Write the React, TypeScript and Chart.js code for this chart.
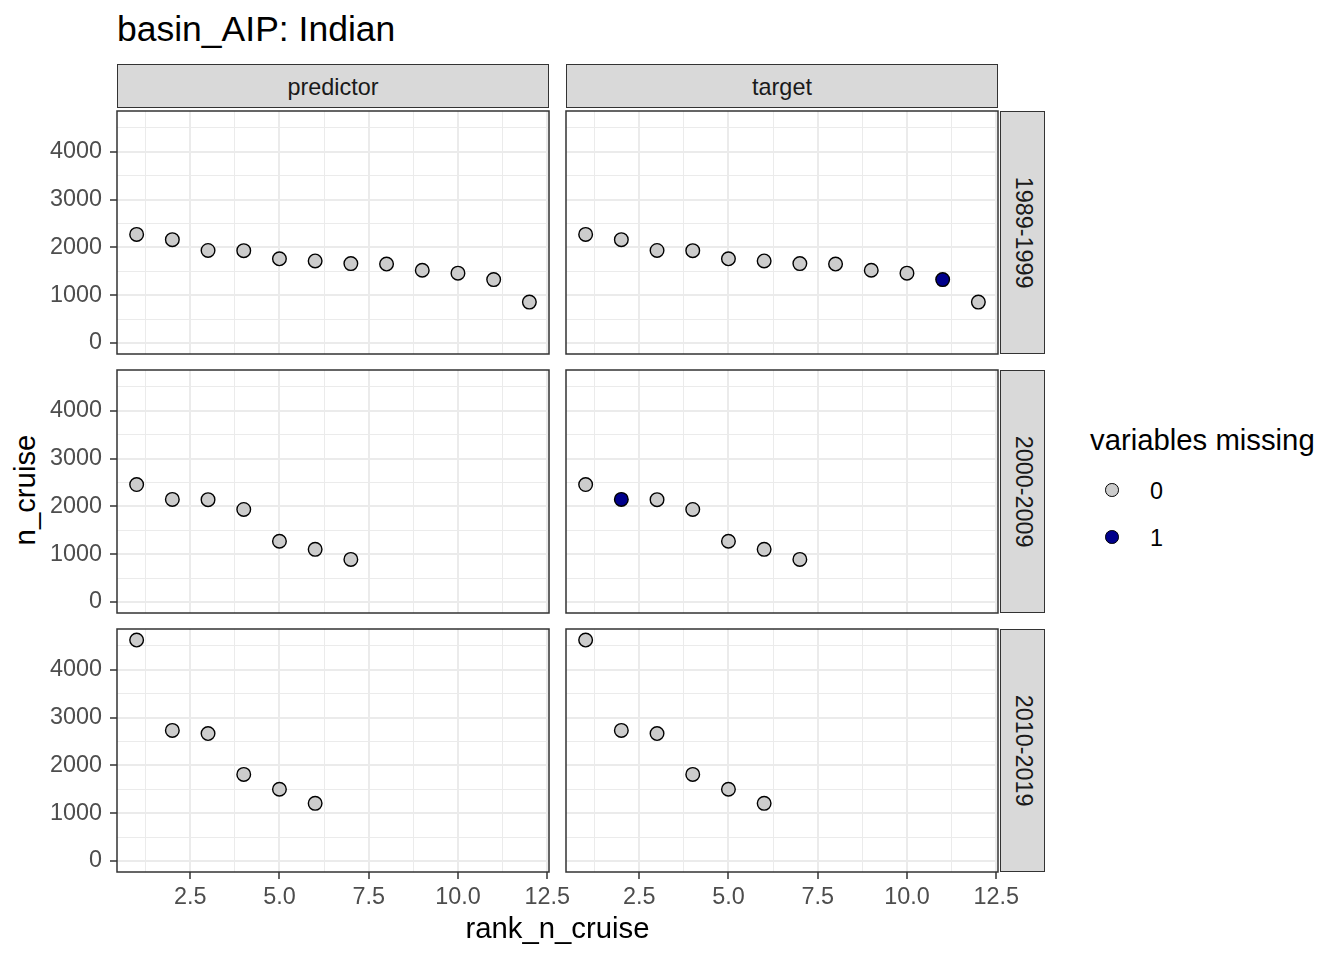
import React, { useEffect, useRef } from "react";
import { Chart, registerables } from "chart.js";

Chart.register(...registerables);

// ---------- data ----------
const TITLE = "basin_AIP: Indian";
const COLUMN_LABELS = ["predictor", "target"];
const ROW_LABELS = ["1989-1999", "2000-2009", "2010-2019"];
const X_TITLE = "rank_n_cruise";
const Y_TITLE = "n_cruise";
const LEGEND_TITLE = "variables missing";
const LEGEND_LABELS = ["0", "1"];

const RANK_1989 = [1, 2, 3, 4, 5, 6, 7, 8, 9, 10, 11, 12];
const N_CRUISE_1989 = [2270, 2160, 1935, 1930, 1760, 1715, 1660, 1650, 1520, 1460, 1325, 855];
const RANK_2000 = [1, 2, 3, 4, 5, 6, 7];
const N_CRUISE_2000 = [2455, 2145, 2140, 1935, 1270, 1100, 890];
const RANK_2010 = [1, 2, 3, 4, 5, 6];
const N_CRUISE_2010 = [4620, 2730, 2665, 1810, 1500, 1205];

const MISSING_PREDICTOR_1989 = [0, 0, 0, 0, 0, 0, 0, 0, 0, 0, 0, 0];
const MISSING_TARGET_1989 = [0, 0, 0, 0, 0, 0, 0, 0, 0, 0, 1, 0];
const MISSING_PREDICTOR_2000 = [0, 0, 0, 0, 0, 0, 0];
const MISSING_TARGET_2000 = [0, 1, 0, 0, 0, 0, 0];
const MISSING_PREDICTOR_2010 = [0, 0, 0, 0, 0, 0];
const MISSING_TARGET_2010 = [0, 0, 0, 0, 0, 0];

const X_TICKS = [1.25, 2.5, 3.75, 5, 6.25, 7.5, 8.75, 10, 11.25, 12.5];
const X_MAJOR = [2.5, 5, 7.5, 10, 12.5];
const Y_TICKS = [0, 500, 1000, 1500, 2000, 2500, 3000, 3500, 4000, 4500];
const Y_MAJOR = [0, 1000, 2000, 3000, 4000];
const X_LIMITS = [0.45, 12.55];
const Y_LIMITS = [-231, 4851];

// ---------- styles ----------
const FONT = "'Liberation Sans', Arial, Helvetica, sans-serif";
const FILL = ["#CCCCCC", "#00008B"];
const GRID_COLOR = "#EBEBEB";
const AXIS_COLOR = "#333333";
const TICK_TEXT = "#4D4D4D";
const STRIP_BG = "#D9D9D9";
const STRIP_TEXT = "#1A1A1A";

const COL_X = [117, 566];
const ROW_Y = [110.5, 369.5, 628.5];
const PANEL_W = 432;
const PANEL_H = 243;
const AXIS_W = 75;
const AXIS_H = 45;
const PAD = 3;
const POINT_R = 6.8;

const isMajor = (v: number, list: number[]) => list.some((m) => Math.abs(m - v) < 1e-6);

const panelBorder = {
  id: "panelBorder",
  afterDatasetsDraw(chart: any) {
    const { ctx, chartArea } = chart;
    ctx.save();
    ctx.strokeStyle = AXIS_COLOR;
    ctx.lineWidth = 1.5;
    ctx.strokeRect(chartArea.left, chartArea.top, chartArea.width, chartArea.height);
    ctx.restore();
  },
};

type PanelProps = {
  row: number;
  col: number;
  ranks: number[];
  values: number[];
  missing: number[];
};

function Panel({ row, col, ranks, values, missing }: PanelProps) {
  const ref = useRef<HTMLCanvasElement>(null);
  const isLeft = col === 0;
  const isBottom = row === 2;
  const padL = isLeft ? 0 : PAD;
  const axisW = isLeft ? AXIS_W : 0;
  const padR = isBottom ? 34 : PAD;
  const axisH = isBottom ? AXIS_H : 0;
  const padT = PAD;
  const padB = isBottom ? 0 : PAD;
  const left = COL_X[col] - axisW - padL;
  const top = Math.round(ROW_Y[row] - padT);
  const width = padL + axisW + PANEL_W + padR;
  const height = padT + PANEL_H + axisH + padB;

  useEffect(() => {
    if (!ref.current) return;
    const tickFont = { family: FONT, size: 23.4 };
    const chart = new Chart(ref.current, {
      type: "scatter",
      data: {
        datasets: [
          {
            data: ranks.map((r, i) => ({ x: r, y: values[i] })),
            pointRadius: POINT_R,
            pointHoverRadius: POINT_R,
            pointBorderWidth: 1.4,
            pointBorderColor: "#000000",
            pointBackgroundColor: missing.map((m) => FILL[m]),
            clip: false,
          },
        ],
      },
      options: {
        animation: false,
        responsive: false,
        maintainAspectRatio: false,
        events: [],
        layout: { autoPadding: false, padding: { left: padL, right: padR, top: padT, bottom: padB } },
        plugins: { legend: { display: false }, tooltip: { enabled: false } },
        scales: {
          x: {
            type: "linear",
            min: X_LIMITS[0],
            max: X_LIMITS[1],
            afterBuildTicks: (s: any) => {
              s.ticks = X_TICKS.map((v) => ({ value: v }));
            },
            afterFit: (s: any) => {
              s.height = axisH;
              s.paddingLeft = 0;
              s.paddingRight = 0;
              s.paddingTop = 0;
              s.paddingBottom = 0;
            },
            border: { display: false },
            grid: {
              color: GRID_COLOR,
              lineWidth: (c: any) => (c.tick && isMajor(c.tick.value, X_MAJOR) ? 2 : 1),
              drawTicks: isBottom,
              tickLength: 7,
              tickWidth: 1.5,
              tickColor: (c: any) =>
                c.tick && isMajor(c.tick.value, X_MAJOR) ? AXIS_COLOR : "rgba(0,0,0,0)",
            },
            ticks: {
              display: isBottom,
              autoSkip: false,
              maxRotation: 0,
              minRotation: 0,
              padding: 5,
              color: TICK_TEXT,
              font: tickFont,
              callback: (v: any) => (isMajor(Number(v), X_MAJOR) ? Number(v).toFixed(1) : ""),
            },
          },
          y: {
            type: "linear",
            min: Y_LIMITS[0],
            max: Y_LIMITS[1],
            afterBuildTicks: (s: any) => {
              s.ticks = Y_TICKS.map((v) => ({ value: v }));
            },
            afterFit: (s: any) => {
              s.width = axisW;
              s.paddingLeft = 0;
              s.paddingRight = 0;
              s.paddingTop = 0;
              s.paddingBottom = 0;
            },
            border: { display: false },
            grid: {
              color: GRID_COLOR,
              lineWidth: (c: any) => (c.tick && isMajor(c.tick.value, Y_MAJOR) ? 2 : 1),
              drawTicks: isLeft,
              tickLength: 7,
              tickWidth: 1.5,
              tickColor: (c: any) =>
                c.tick && isMajor(c.tick.value, Y_MAJOR) ? AXIS_COLOR : "rgba(0,0,0,0)",
            },
            ticks: {
              display: isLeft,
              autoSkip: false,
              padding: 8,
              color: TICK_TEXT,
              font: tickFont,
              callback: (v: any) => (isMajor(Number(v), Y_MAJOR) ? String(v) : ""),
            },
          },
        },
      } as any,
      plugins: [panelBorder],
    });
    return () => chart.destroy();
  }, []);

  return (
    <canvas
      ref={ref}
      width={width}
      height={height}
      style={{ position: "absolute", left, top, width, height }}
    />
  );
}

const textBase: React.CSSProperties = {
  position: "absolute",
  fontFamily: FONT,
  lineHeight: 1,
  whiteSpace: "nowrap",
};

export default function App() {
  const rows = [
    { ranks: RANK_1989, values: N_CRUISE_1989, missing: [MISSING_PREDICTOR_1989, MISSING_TARGET_1989] },
    { ranks: RANK_2000, values: N_CRUISE_2000, missing: [MISSING_PREDICTOR_2000, MISSING_TARGET_2000] },
    { ranks: RANK_2010, values: N_CRUISE_2010, missing: [MISSING_PREDICTOR_2010, MISSING_TARGET_2010] },
  ];

  return (
    <div
      style={{
        position: "absolute",
        left: 0,
        top: 0,
        width: 1344,
        height: 960,
        background: "#FFFFFF",
        overflow: "hidden",
        fontFamily: FONT,
      }}
    >
      {/* title */}
      <div style={{ ...textBase, left: 117, top: 12, fontSize: 35.5, color: "#000" }}>{TITLE}</div>

      {/* column strips */}
      {COLUMN_LABELS.map((lab, c) => (
        <div
          key={lab}
          style={{
            position: "absolute",
            left: COL_X[c],
            top: 64,
            width: PANEL_W,
            height: 44,
            boxSizing: "border-box",
            border: `1.5px solid ${AXIS_COLOR}`,
            background: STRIP_BG,
            display: "flex",
            alignItems: "center",
            justifyContent: "center",
          }}
        >
          <span
            style={{
              fontFamily: FONT,
              fontSize: 23.4,
              lineHeight: 1,
              color: STRIP_TEXT,
              position: "relative",
              top: 1.5,
            }}
          >
            {lab}
          </span>
        </div>
      ))}

      {/* row strips */}
      {ROW_LABELS.map((lab, r) => (
        <div
          key={lab}
          style={{
            position: "absolute",
            left: 1000,
            top: Math.round(ROW_Y[r]),
            width: 45,
            height: PANEL_H,
            boxSizing: "border-box",
            border: `1.5px solid ${AXIS_COLOR}`,
            background: STRIP_BG,
            display: "flex",
            alignItems: "center",
            justifyContent: "center",
          }}
        >
          <span
            style={{
              fontFamily: FONT,
              fontSize: 23.4,
              lineHeight: 1,
              color: STRIP_TEXT,
              whiteSpace: "nowrap",
              transform: "rotate(90deg)",
            }}
          >
            {lab}
          </span>
        </div>
      ))}

      {/* panels */}
      {rows.map((rw, r) =>
        [0, 1].map((c) => (
          <Panel key={`${r}-${c}`} row={r} col={c} ranks={rw.ranks} values={rw.values} missing={rw.missing[c]} />
        ))
      )}

      {/* axis titles */}
      <div
        style={{
          ...textBase,
          left: 557.5,
          top: 913.2,
          fontSize: 29.3,
          color: "#000",
          transform: "translateX(-50%)",
        }}
      >
        {X_TITLE}
      </div>
      <div
        style={{
          ...textBase,
          left: 24.9,
          top: 490,
          fontSize: 29.3,
          color: "#000",
          transform: "translate(-50%, -50%) rotate(-90deg)",
        }}
      >
        {Y_TITLE}
      </div>

      {/* legend */}
      <div style={{ ...textBase, left: 1090, top: 425, fontSize: 29.3, color: "#000" }}>{LEGEND_TITLE}</div>
      {LEGEND_LABELS.map((lab, i) => (
        <React.Fragment key={lab}>
          <div
            style={{
              position: "absolute",
              left: 1112 - POINT_R,
              top: [490, 537][i] - POINT_R,
              width: POINT_R * 2,
              height: POINT_R * 2,
              boxSizing: "border-box",
              borderRadius: "50%",
              border: "1.4px solid #000",
              background: FILL[i],
            }}
          />
          <div style={{ ...textBase, left: 1150, top: [480.2, 527][i], fontSize: 23.4, color: "#000" }}>{lab}</div>
        </React.Fragment>
      ))}
    </div>
  );
}
